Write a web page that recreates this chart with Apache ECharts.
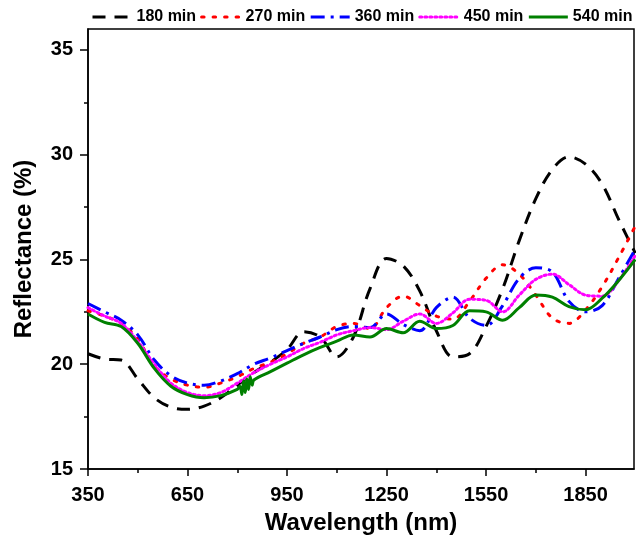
<!DOCTYPE html>
<html>
<head>
<meta charset="utf-8">
<script src="https://cdn.jsdelivr.net/npm/echarts@6/dist/echarts.min.js"></script>
<style>html,body{margin:0;padding:0;background:#fff}#c{width:640px;height:540px}</style>
</head>
<body>
<div id="c"></div>
<script>
// Wavelength grid (nm)
var wavelengths = [350,400,450,500,550,600,650,700,750,800,850,900,950,1000,1050,1100,1150,1200,1250,1300,1350,1400,1450,1500,1550,1600,1650,1700,1750,1800,1850,1900,1950,2000];
var seriesNames = ['180 min','270 min','360 min','450 min','540 min'];
var r180 = [20.5,20.25,20.2,19.3,18.4,17.95,17.85,18.0,18.4,19.0,19.6,20.1,20.7,21.55,21.3,20.35,21.3,23.6,25.05,24.7,23.5,21.6,20.35,20.5,21.8,23.6,25.9,27.9,29.3,29.9,29.55,28.6,26.9,25.3];
var r270 = [22.55,22.3,21.95,21.2,19.9,19.3,19.0,18.9,19.1,19.4,19.8,20.1,20.5,21.0,21.3,21.8,21.95,21.7,22.7,23.25,22.8,22.3,22.15,23.0,24.1,24.75,24.3,23.3,22.2,21.95,22.6,23.7,25.1,26.6];
var r360 = [22.9,22.5,22.1,21.4,20.2,19.45,19.1,19.0,19.2,19.55,20.0,20.3,20.65,21.0,21.3,21.65,21.8,21.75,22.4,21.9,21.6,22.7,23.2,22.2,21.85,22.8,24.1,24.6,24.4,23.0,22.5,22.8,24.1,25.5];
var r450 = [22.7,22.3,21.95,21.1,20.0,19.1,18.65,18.5,18.65,19.1,19.6,20.0,20.35,20.75,21.05,21.4,21.6,21.75,21.65,22.05,22.4,21.95,22.45,23.1,23.05,22.5,23.3,24.05,24.3,23.8,23.3,23.25,24.0,25.2];
var r540 = [22.4,22.0,21.8,21.0,19.8,18.95,18.55,18.4,18.5,18.8,19.25,19.65,20.05,20.45,20.8,21.1,21.4,21.3,21.7,21.5,22.05,21.7,21.85,22.55,22.5,22.1,22.7,23.3,23.2,22.75,22.6,23.15,24.0,25.0];
// noisy region of the 540 min curve
var noiseWl = [808,814,819,824,829,834,839,845];
var noiseVal = [18.95,18.55,19.2,18.65,19.3,18.8,19.4,19.0];
var xMajor = [350,650,950,1250,1550,1850];
var xMinor = [500,800,1100,1400,1700];
var yMajor = [15,20,25,30,35];
var yMinor = [17.5,22.5,27.5,32.5];

function pairs(v){ return wavelengths.map(function(w,i){return [w,v[i]];}); }
var g = pairs(r540);
noiseWl.forEach(function(w,i){ g.push([w,noiseVal[i]]); });
g.sort(function(a,b){return a[0]-b[0];});

var FONT = '"Liberation Sans", Arial, sans-serif';
var chart = echarts.init(document.getElementById('c'));
var styles = [
  {color:'#000000', type:[13,9], cap:'butt'},
  {color:'#ff0000', type:[2.5,9], cap:'round'},
  {color:'#0000ff', type:[14,6,3,6], cap:'butt'},
  {color:'#ff00ff', type:[2,3], cap:'round'},
  {color:'#008000', type:'solid', cap:'butt'}
];
var datas = [pairs(r180), pairs(r270), pairs(r360), pairs(r450), g];
var series = datas.map(function(d,i){
  return {
    name: seriesNames[i], type:'line', data:d, symbol:'none', showSymbol:false, smooth:0.35,
    xAxisIndex:0, yAxisIndex:0, z: 2+i,
    itemStyle:{color:styles[i].color},
    lineStyle:{color:styles[i].color, width:3, type:styles[i].type, cap:styles[i].cap}
  };
});
function plain(v){ return String(v); }
chart.setOption({
  animation:false,
  backgroundColor:'#fff',
  grid:{left:88, right:6, top:29, bottom:71, show:true, borderColor:'#000', borderWidth:1.5, containLabel:false},
  legend:{
    data:seriesNames, left:91, top:9, width:560, itemWidth:39, itemHeight:10, itemGap:4, padding:0,
    itemStyle:{opacity:0},
    lineStyle:{width:3},
    textStyle:{fontFamily:FONT, fontWeight:'bold', fontSize:16, color:'#000'}
  },
  xAxis:[{
    type:'value', min:350, max:1996, position:'bottom',
    name:'Wavelength (nm)', nameLocation:'middle', nameGap:42,
    nameTextStyle:{fontFamily:FONT, fontWeight:'bold', fontSize:24, color:'#000'},
    axisLine:{show:true, onZero:false, lineStyle:{color:'#000', width:1.5}},
    axisTick:{show:true, length:7, customValues:xMajor, lineStyle:{color:'#000', width:1.5}},
    axisLabel:{show:true, margin:16, customValues:xMajor, formatter:plain, fontFamily:FONT, fontWeight:'bold', fontSize:20, color:'#000'},
    splitLine:{show:false}
  },{
    type:'value', min:350, max:1996, position:'bottom',
    axisLine:{show:false},
    axisTick:{show:true, length:4, customValues:xMinor, lineStyle:{color:'#000', width:1.5}},
    axisLabel:{show:false}, splitLine:{show:false}
  }],
  yAxis:[{
    type:'value', min:15, max:36, position:'left',
    name:'Reflectance (%)', nameLocation:'middle', nameGap:52,
    nameTextStyle:{fontFamily:FONT, fontWeight:'bold', fontSize:24, color:'#000'},
    axisLine:{show:true, onZero:false, lineStyle:{color:'#000', width:1.5}},
    axisTick:{show:true, length:8, customValues:yMajor, lineStyle:{color:'#000', width:1.5}},
    axisLabel:{show:true, margin:15, customValues:yMajor, formatter:plain, fontFamily:FONT, fontWeight:'bold', fontSize:20, color:'#000'},
    splitLine:{show:false}
  },{
    type:'value', min:15, max:36, position:'left',
    axisLine:{show:false},
    axisTick:{show:true, length:4, customValues:yMinor, lineStyle:{color:'#000', width:1.5}},
    axisLabel:{show:false}, splitLine:{show:false}
  }],
  series: series
});
</script>
</body>
</html>
